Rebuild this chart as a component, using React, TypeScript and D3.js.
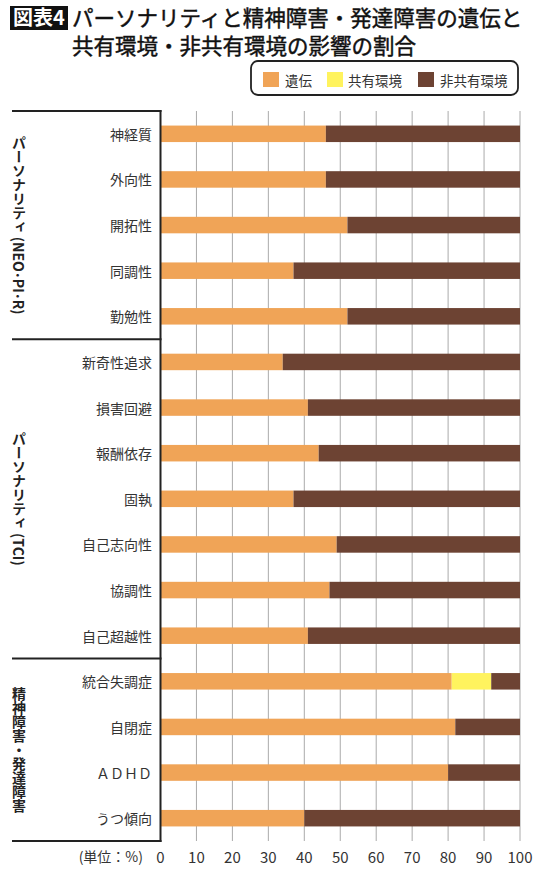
import React from 'react';
import * as d3 from 'd3';

const categories = ['神経質', '外向性', '開拓性', '同調性', '勤勉性', '新奇性追求', '損害回避', '報酬依存', '固執', '自己志向性', '協調性', '自己超越性', '統合失調症', '自閉症', 'ＡＤＨＤ', 'うつ傾向'];
const heredity = [46, 46, 52, 37, 52, 34, 41, 44, 37, 49, 47, 41, 81, 82, 80, 40];
const sharedEnv = [0, 0, 0, 0, 0, 0, 0, 0, 0, 0, 0, 0, 11, 0, 0, 0];
const nonSharedEnv = [54, 54, 48, 63, 48, 66, 59, 56, 63, 51, 53, 59, 8, 18, 20, 60];

const seriesNames = ['遺伝', '共有環境', '非共有環境'];
const seriesColors = ['#F0A457', '#FFF35E', '#6D4333'];

const groupLabels = ['パーソナリティ (NEO･PI･R)', 'パーソナリティ (TCI)', '精神障害・発達障害'];
const groupSizes = [5, 7, 4];

const xTicks = [0, 10, 20, 30, 40, 50, 60, 70, 80, 90, 100];

const titleTag = '図表4';
const titleLine1 = 'パーソナリティと精神障害・発達障害の遺伝と';
const titleLine2 = '共有環境・非共有環境の影響の割合';
const unitLabel = '(単位：%)';

const FONT = "'Noto Sans CJK JP', 'Noto Sans', sans-serif";

export default function App() {
  const x = d3.scaleLinear().domain([0, 100]).range([160.5, 520]);
  const y = d3.scaleBand<string>().domain(categories).range([111, 841]).paddingInner(0).paddingOuter(0);
  const bw = y.bandwidth();
  const barH = 16.5;

  const rows = categories.map((c, i) => ({ c, h: heredity[i], s: sharedEnv[i], n: nonSharedEnv[i] }));
  const stack = d3.stack<any>().keys(['h', 's', 'n'])(rows);

  const boundaries: number[] = [0];
  groupSizes.forEach((g) => boundaries.push(boundaries[boundaries.length - 1] + g));
  const boundaryY = boundaries.map((b) => (b < categories.length ? (y(categories[b]) as number) : (y(categories[categories.length - 1]) as number) + bw));

  const top = boundaryY[0];
  const bottom = boundaryY[boundaryY.length - 1];

  const legendItems = [
    { sx: 263, tx: 285 },
    { sx: 327, tx: 348 },
    { sx: 418, tx: 440 },
  ];

  return (
    <svg width={540} height={890} style={{ position: 'absolute', left: 0, top: 0, background: '#fff' }} fontFamily={FONT}>
      {/* Title */}
      <rect x={10} y={6} width={58} height={24} fill="#111" />
      <text x={39} y={25} fill="#fff" fontSize={20} fontWeight={700} textAnchor="middle">{titleTag}</text>
      <text x={72} y={26} fontSize={21.5} fontWeight={400} fill="#111" stroke="#111" strokeWidth={0.45}>{titleLine1}</text>
      <text x={72} y={53.5} fontSize={21.5} fontWeight={400} fill="#111" stroke="#111" strokeWidth={0.45}>{titleLine2}</text>

      {/* Legend */}
      <rect x={251} y={61} width={267} height={34} rx={7} fill="#fff" stroke="#222" strokeWidth={1.8} />
      {seriesNames.map((s, i) => (
        <g key={s}>
          <rect x={legendItems[i].sx} y={72} width={16} height={15} fill={seriesColors[i]} />
          <text x={legendItems[i].tx} y={79.5} fontSize={13.5} fill="#333" dominantBaseline="central">{s}</text>
        </g>
      ))}

      {/* Gridlines */}
      {xTicks.filter((t) => t > 0).map((t) => (
        <line key={t} x1={x(t)} x2={x(t)} y1={top} y2={bottom} stroke="#aaa" strokeWidth={1} />
      ))}

      {/* Bars */}
      {stack.map((layer, li) => (
        <g key={li} fill={seriesColors[li]}>
          {layer.map((d: any, i: number) => {
            const w = x(d[1]) - x(d[0]);
            if (w <= 0) return null;
            return (
              <rect key={i} x={x(d[0])} width={w} y={(y(categories[i]) as number) + bw / 2 - barH / 2} height={barH} />
            );
          })}
        </g>
      ))}

      {/* Group separators */}
      {boundaryY.map((by, i) => (
        <line key={i} x1={12} x2={161.5} y1={by} y2={by} stroke="#222" strokeWidth={2} />
      ))}
      <line x1={160.5} x2={160.5} y1={top - 1} y2={bottom + 1} stroke="#222" strokeWidth={2} />

      {/* Category labels */}
      {categories.map((c) => (
        <text key={c} x={152} y={(y(c) as number) + bw / 2} fontSize={14} fill="#333" textAnchor="end" dominantBaseline="central">{c}</text>
      ))}

      {/* Group labels */}
      {groupLabels.map((g, i) => (
        <text key={g} x={19} y={(boundaryY[i] + boundaryY[i + 1]) / 2} fontSize={14} fontWeight={700} fill="#222" textAnchor="middle" style={{ writingMode: 'vertical-rl' as any }}>{g}</text>
      ))}

      {/* X tick labels */}
      {xTicks.map((t) => (
        <text key={t} x={x(t)} y={856} fontSize={15} fill="#333" textAnchor="middle" dominantBaseline="central">{t}</text>
      ))}
      <text x={143} y={856} fontSize={14} fill="#333" textAnchor="end" dominantBaseline="central">{unitLabel}</text>
    </svg>
  );
}
